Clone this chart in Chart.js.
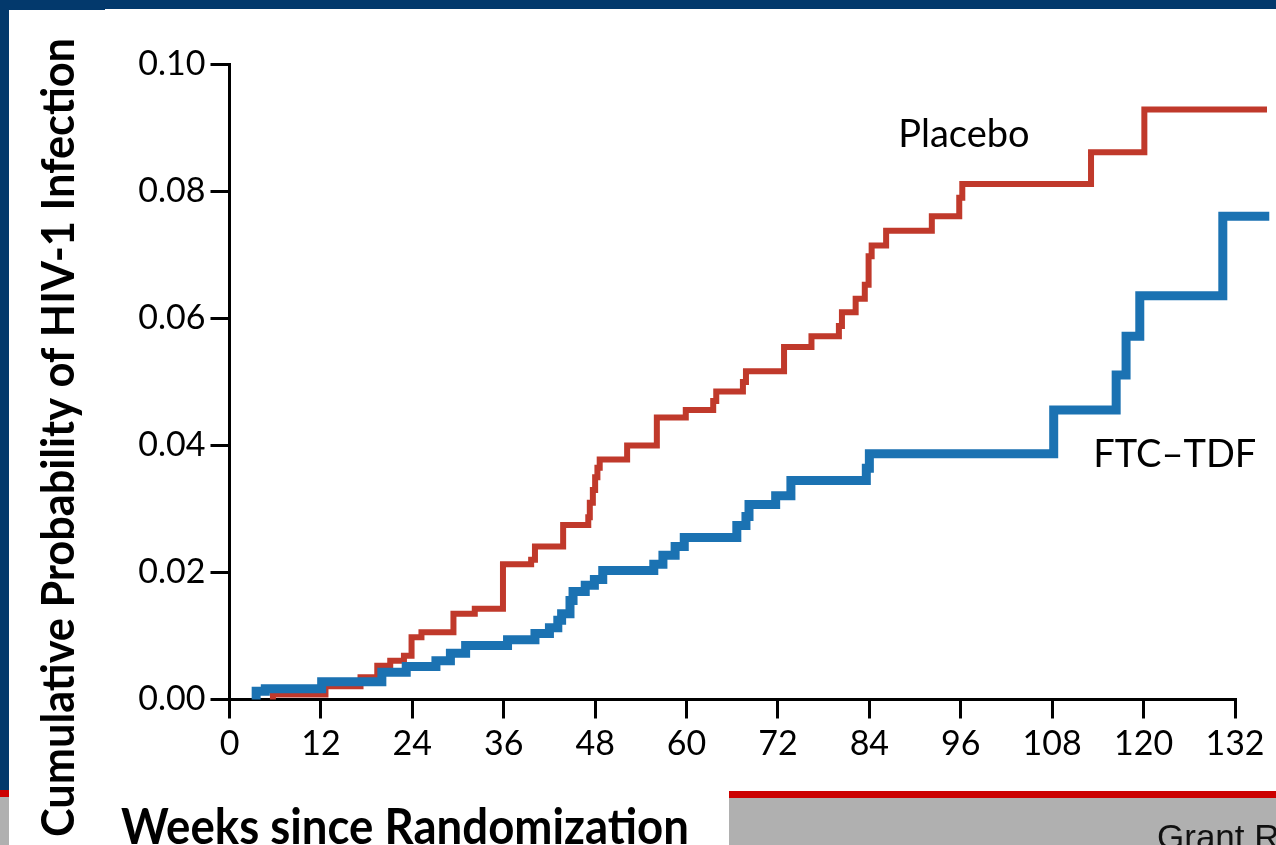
<!DOCTYPE html>
<html>
<head>
<meta charset="utf-8">
<title>Cumulative Probability of HIV-1 Infection</title>
<script src="https://cdn.jsdelivr.net/npm/chart.js@4.4.1/dist/chart.umd.min.js"></script>
<style>
  html, body { margin: 0; padding: 0; width: 1276px; height: 845px; overflow: hidden; background: #ffffff; }
  .band { position: absolute; }
  #topBand { left: 0; top: 0; width: 1276px; height: 9px; background: #03396c; }
  #topBandLeft { left: 0; top: 0; width: 105px; height: 10px; background: #03396c; }
  #leftBand { left: 0; top: 0; width: 9px; height: 790px; background: #03396c; }
  #leftRed { left: 0; top: 790px; width: 9px; height: 7px; background: #cc0000; }
  #leftGray { left: 0; top: 797px; width: 9px; height: 48px; background: #b0b0b0; }
  #footRed { left: 729px; top: 791px; width: 547px; height: 7px; background: #cc0000; }
  #footGray { left: 729px; top: 798px; width: 547px; height: 47px; background: #b0b0b0; }
  #wrap { position: absolute; left: 0; top: 0; width: 1276px; height: 845px; }
</style>
</head>
<body>
<div class="band" id="topBand"></div>
<div class="band" id="topBandLeft"></div>
<div class="band" id="leftBand"></div>
<div class="band" id="leftRed"></div>
<div class="band" id="leftGray"></div>
<div class="band" id="footRed"></div>
<div class="band" id="footGray"></div>
<div id="wrap"><canvas id="km"></canvas></div>
<script>
// Axis ticks
const weekTicks = [0, 12, 24, 36, 48, 60, 72, 84, 96, 108, 120, 132];
const probTicks = [0.00, 0.02, 0.04, 0.06, 0.08, 0.10];

// Kaplan-Meier steps: week of each event and cumulative probability after it
const placeboWeeks = [5.7, 5.7, 12.6, 17.2, 19.4, 21.1, 22.9, 23.9, 25.2, 29.4, 32.2, 35.9, 39.6, 40.1,
  43.8, 47.1, 47.3, 47.7, 48.0, 48.3, 48.6, 52.2, 56.1, 59.9, 63.5, 63.9, 67.4, 67.8, 72.8, 76.4,
  80.0, 80.4, 82.2, 83.4, 83.9, 84.3, 86.2, 92.2, 95.8, 96.2, 113.1, 120.1, 136.2];
const placeboProb = [0, 0.0008, 0.0021, 0.0035, 0.0053, 0.0061, 0.0069, 0.0098, 0.0106, 0.0135, 0.0143, 0.0213, 0.0220, 0.0241,
  0.0275, 0.0287, 0.0310, 0.0330, 0.0350, 0.0365, 0.0378, 0.0400, 0.0444, 0.0456, 0.0470, 0.0485, 0.0500, 0.0517, 0.0555, 0.0572,
  0.0588, 0.0610, 0.0631, 0.0653, 0.0698, 0.0715, 0.0738, 0.0761, 0.0790, 0.0812, 0.0862, 0.0929, 0.0929];

const ftcWeeks = [3.5, 3.5, 4.7, 12.1, 20.0, 23.2, 27.1, 29.0, 31.0, 36.5, 40.1, 42.0, 43.1, 43.6, 44.7, 45.1,
  46.7, 47.9, 49.0, 55.7, 56.9, 58.5, 59.7, 66.6, 67.8, 68.2, 71.7, 73.7, 83.6, 84.0, 108.2, 116.4,
  117.7, 119.5, 130.4, 136.5];
const ftcProb = [0, 0.0013, 0.0017, 0.0028, 0.0043, 0.0052, 0.0061, 0.0073, 0.0085, 0.0094, 0.0104, 0.0113, 0.0125, 0.0135, 0.0156, 0.0170,
  0.0180, 0.0189, 0.0203, 0.0213, 0.0227, 0.0241, 0.0255, 0.0274, 0.0288, 0.0307, 0.0321, 0.0345, 0.0364, 0.0387, 0.0456, 0.0511,
  0.0572, 0.0636, 0.0761, 0.0761];

// Series labels and where they sit (weeks, probability at text baseline)
const seriesNames = ['FTC\u2013TDF', 'Placebo'];
const seriesLabelAt = [[113.4, 0.0366], [87.8, 0.0870]];

const yTitle = 'Cumulative Probability of HIV-1 Infection';
const xTitle = 'Weeks since Randomization';
const credit = 'Grant R';

const RED = '#c0392b';
const BLUE = '#1b72b2';

function pairs(xs, ys) { return xs.map((x, i) => ({ x: x, y: ys[i] })); }

// Draw text stretched along its run to a given length
function drawFitted(ctx, text, font, x, y, length, angle) {
  ctx.save();
  ctx.font = font;
  const w = ctx.measureText(text).width;
  ctx.translate(x, y);
  ctx.rotate(angle);
  ctx.scale(length / w, 1);
  ctx.textAlign = 'left';
  ctx.textBaseline = 'alphabetic';
  ctx.fillText(text, 0, 0);
  ctx.restore();
}

const textPlugin = {
  id: 'figureText',
  afterDraw(chart) {
    const { ctx } = chart;
    const xs = chart.scales.x, ys = chart.scales.y;
    ctx.save();
    ctx.fillStyle = '#000';
    drawFitted(ctx, yTitle, 'bold 45px Lato', 74, 837, 799, -Math.PI / 2);
    drawFitted(ctx, xTitle, 'bold 50px Lato', 121, 844, 568, 0);
    ctx.font = '38px Lato';
    ctx.textAlign = 'left';
    ctx.textBaseline = 'alphabetic';
    seriesNames.forEach((name, i) => {
      const [wk, p] = seriesLabelAt[i];
      ctx.fillText(name, xs.getPixelForValue(wk), ys.getPixelForValue(p));
    });
    ctx.fillStyle = '#111';
    ctx.font = '35px "Liberation Sans"';
    ctx.fillText(credit, 1157, 849);
    ctx.restore();
  }
};

function build() {
  Chart.defaults.font.family = 'Lato';
  Chart.defaults.color = '#000';
  new Chart(document.getElementById('km'), {
    type: 'line',
    data: {
      datasets: [
        {
          label: seriesNames[0],
          data: pairs(ftcWeeks, ftcProb),
          borderColor: BLUE,
          borderWidth: 9,
          stepped: 'before',
          pointRadius: 0,
          fill: false,
          borderJoinStyle: 'miter',
          borderCapStyle: 'butt',
          clip: false
        },
        {
          label: seriesNames[1],
          data: pairs(placeboWeeks, placeboProb),
          borderColor: RED,
          borderWidth: 6,
          stepped: 'before',
          pointRadius: 0,
          fill: false,
          borderJoinStyle: 'miter',
          borderCapStyle: 'butt',
          clip: false
        }
      ]
    },
    options: {
      responsive: true,
      maintainAspectRatio: false,
      animation: false,
      events: [],
      layout: { padding: { left: 0, top: 64.5, right: 41, bottom: 0 } },
      plugins: { legend: { display: false }, tooltip: { enabled: false } },
      scales: {
        x: {
          type: 'linear',
          min: weekTicks[0],
          max: weekTicks[weekTicks.length - 1],
          afterFit(scale) { scale.height = 145.5; },
          afterBuildTicks(scale) { scale.ticks = weekTicks.map(v => ({ value: v })); },
          ticks: {
            autoSkip: false,
            maxRotation: 0,
            padding: 5,
            font: { size: 34 },
            color: '#000',
            callback: v => String(v)
          },
          grid: { drawOnChartArea: false, drawTicks: true, tickLength: 19, tickWidth: 3, tickColor: '#000', lineWidth: 3, color: '#000' },
          border: { display: true, width: 3, color: '#000' }
        },
        y: {
          type: 'linear',
          min: probTicks[0],
          max: probTicks[probTicks.length - 1],
          afterFit(scale) { scale.width = 229.5; },
          afterBuildTicks(scale) { scale.ticks = probTicks.map(v => ({ value: v })); },
          ticks: {
            autoSkip: false,
            padding: 5,
            font: { size: 34 },
            color: '#000',
            callback: v => Number(v).toFixed(2)
          },
          grid: { drawOnChartArea: false, drawTicks: true, tickLength: 19, tickWidth: 3, tickColor: '#000', lineWidth: 3, color: '#000' },
          border: { display: true, width: 3, color: '#000' }
        }
      }
    },
    plugins: [textPlugin]
  });
}

Promise.all([
  document.fonts.load('bold 50px Lato'),
  document.fonts.load('34px Lato'),
  document.fonts.load('35px "Liberation Sans"')
]).then(build, build);
</script>
</body>
</html>
